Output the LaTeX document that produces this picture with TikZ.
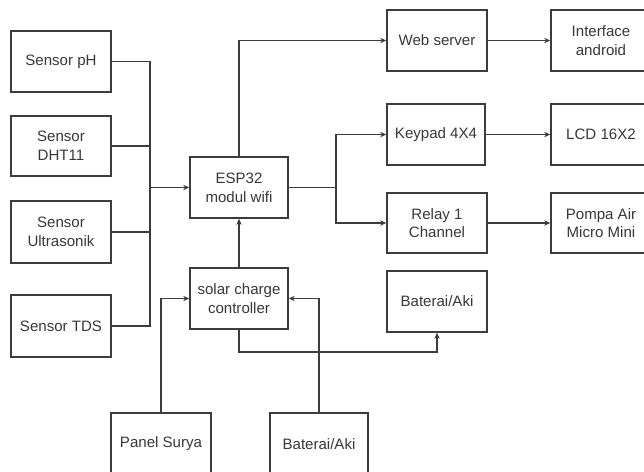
\documentclass[tikz,border=0pt]{standalone}
\usepackage{fontspec}
\setmainfont{Liberation Sans}
\usetikzlibrary{arrows.meta}
\definecolor{ln}{HTML}{3C3C3C}
\definecolor{tx}{HTML}{383838}
\begin{document}
\begin{tikzpicture}[x=0.75pt,y=-0.75pt,
  box/.style={draw=ln,line width=1.2pt,fill=white,text=tx,align=center,inner sep=0pt,
    font=\fontsize{11.3}{14}\selectfont},
  ln/.style={draw=ln,line width=1.2pt},
  arr/.style={ln,-{Stealth[length=4.5pt,width=4pt]}}]
\clip (0,0) rectangle (644,472);
\fill[white] (0,0) rectangle (644,472);
% sensors
\node[box,minimum width=75pt,minimum height=45.75pt] (ph) at (61,61.5) {Sensor pH};
\node[box,minimum width=75pt,minimum height=45pt] (dht) at (61,146) {Sensor\\DHT11};
\node[box,minimum width=75pt,minimum height=46.5pt] (ultra) at (61,232) {Sensor\\Ultrasonik};
\node[box,minimum width=75pt,minimum height=46.5pt] (tds) at (61,326) {Sensor TDS};
% core
\node[box,minimum width=73.5pt,minimum height=45.75pt] (esp) at (239,187.5) {ESP32\\modul wifi};
\node[box,minimum width=73.5pt,minimum height=45.75pt] (scc) at (239,298.5) {solar charge\\controller};
% bottom
\node[box,minimum width=75pt,minimum height=46.5pt] (panel) at (161,444) {Panel Surya};
\node[box,minimum width=73.5pt,minimum height=46.5pt] (batb) at (319,444) {Baterai/Aki};
% right side
\node[box,minimum width=75pt,minimum height=45.75pt] (web) at (437,40.5) {Web server};
\node[box,minimum width=75pt,minimum height=45.75pt] (intf) at (601,40.5) {Interface\\android};
\node[box,minimum width=73.5pt,minimum height=45.75pt] (key) at (436,134.5) {Keypad 4X4};
\node[box,minimum width=75pt,minimum height=45.75pt] (lcd) at (601,134.5) {LCD 16X2};
\node[box,minimum width=75pt,minimum height=45pt] (relay) at (437,223) {Relay 1\\Channel};
\node[box,minimum width=75pt,minimum height=45pt] (pompa) at (601,223) {Pompa Air\\Micro Mini};
\node[box,minimum width=75pt,minimum height=45.75pt] (batr) at (437,301.5) {Baterai/Aki};
% sensor bus
\coordinate (busb) at (150,326);
\draw[ln] (ph.east) -| (busb) -- (tds.east);
\draw[ln] (dht.east) -- (dht.east -| busb);
\draw[ln] (ultra.east) -- (ultra.east -| busb);
\draw[arr] (esp.west -| busb) -- (esp.west);
% esp to web
\draw[arr] (esp.north) |- (web.west);
\draw[arr] (web.east) -- (intf.west);
% esp to keypad / relay
\coordinate (sp) at (336,187.5);
\draw[ln] (esp.east) -- (sp);
\draw[arr] (sp) |- (key.west);
\draw[arr] (sp) |- (relay.west);
\draw[arr] (key.east) -- (lcd.west);
\draw[arr] (relay.east) -- (pompa.west);
% power
\draw[arr] (scc.north) -- (esp.south);
\draw[arr] (panel.north) |- (scc.west);
\draw[arr] (batb.north) |- (scc.east);
\coordinate (lo) at (239,352);
\draw[arr] (scc.south) -- (lo) -| (batr.south);
\end{tikzpicture}
\end{document}
